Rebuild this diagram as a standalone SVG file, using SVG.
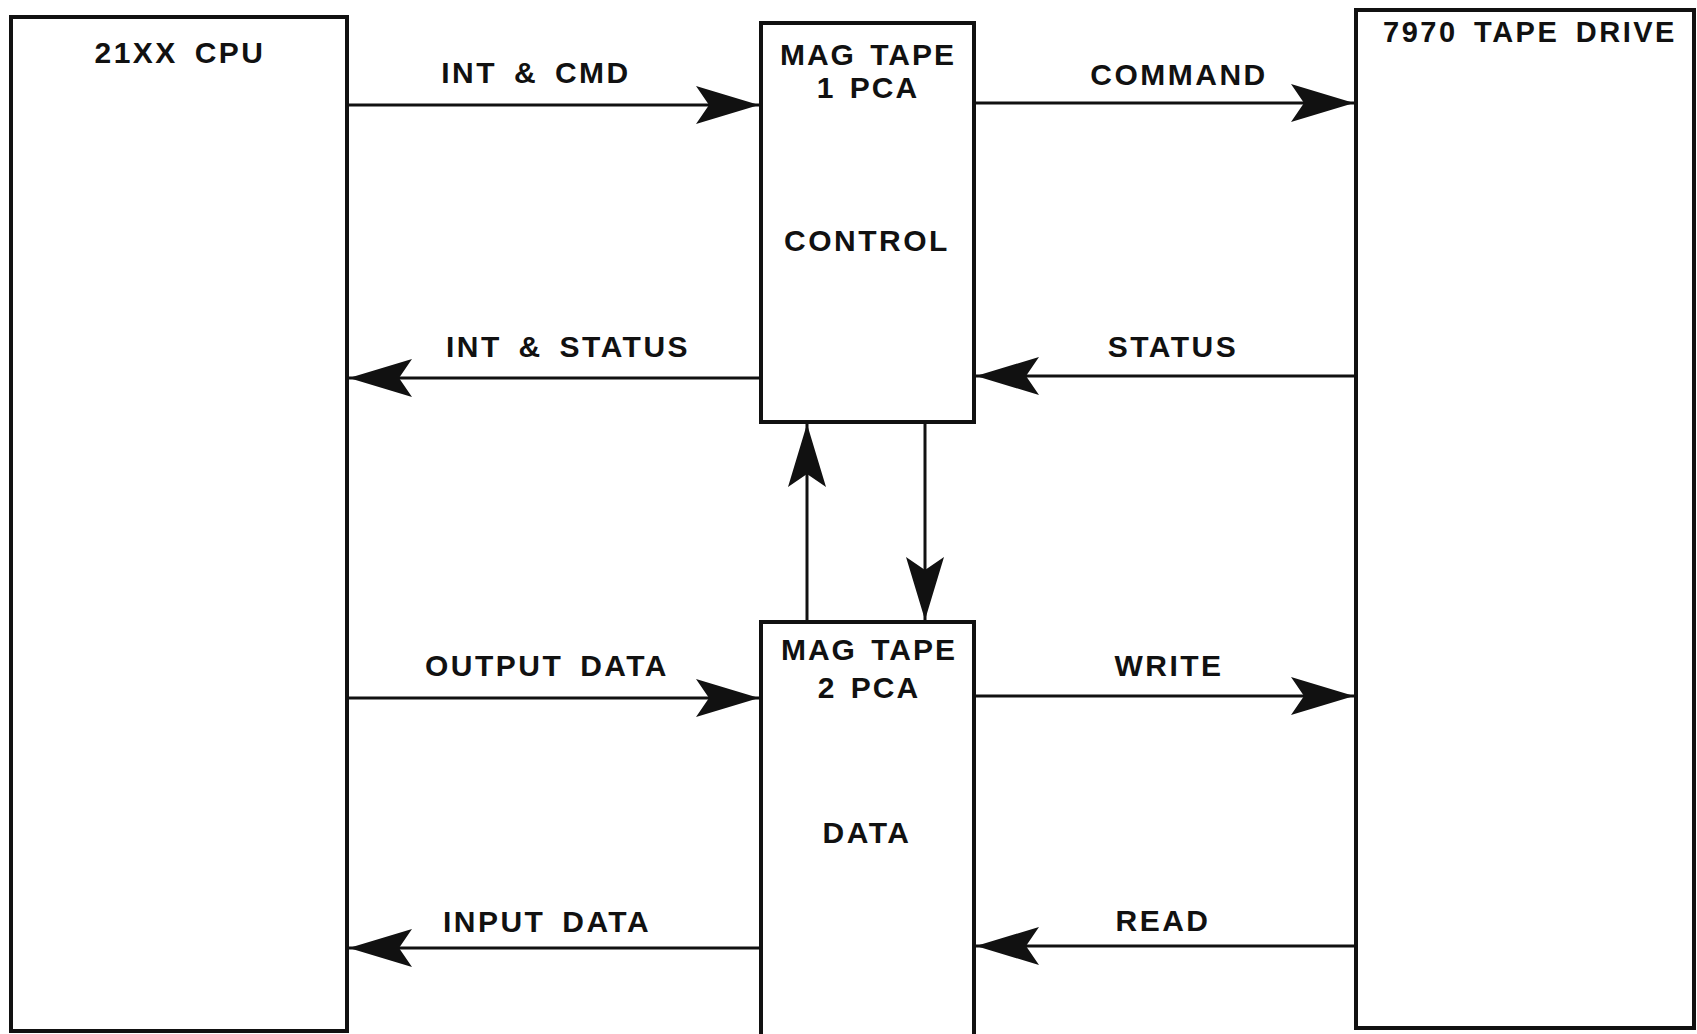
<svg xmlns="http://www.w3.org/2000/svg" width="1697" height="1034" viewBox="0 0 1697 1034">
<style>
.box{fill:none;stroke:#111;stroke-width:4}
.ln{fill:none;stroke:#111;stroke-width:3;marker-end:url(#ah)}
text{font-family:"Liberation Sans",Arial,sans-serif;font-weight:bold;fill:#111;text-anchor:middle}
.t{font-size:30px;letter-spacing:2.5px;word-spacing:6px}
.m{font-size:30px;letter-spacing:2px;word-spacing:4px}
</style>
<defs>
<marker id="ah" markerUnits="userSpaceOnUse" viewBox="-64 -20 66 40" markerWidth="66" markerHeight="40" refX="0" refY="0" orient="auto">
<path d="M0,0 L-63,-19 L-50,0 L-63,19 Z" fill="#111"/>
</marker>
</defs>
<rect width="1697" height="1034" fill="#fff"/>
<g id="cpu">
<rect class="box" x="11" y="17" width="336" height="1014"/>
<text class="t" x="180" y="63">21XX CPU</text>
</g>
<g id="magtape1">
<rect class="box" x="761" y="23" width="213" height="399"/>
<text class="m" x="868" y="65">MAG TAPE</text>
<text class="m" x="868" y="98">1 PCA</text>
<text class="t" x="867" y="251">CONTROL</text>
</g>
<g id="magtape2">
<rect class="box" x="761" y="622" width="213" height="420"/>
<text class="m" x="869" y="660">MAG TAPE</text>
<text class="m" x="869" y="698">2 PCA</text>
<text class="t" x="867" y="843">DATA</text>
</g>
<g id="drive">
<rect class="box" x="1356" y="10" width="338" height="1018"/>
<text class="t" x="1530" y="42" style="font-size:29px">7970 TAPE DRIVE</text>
</g>
<g id="connectors">
<line class="ln" x1="349" y1="105" x2="759" y2="105"/>
<line class="ln" x1="976" y1="103" x2="1354" y2="103"/>
<line class="ln" x1="759" y1="378" x2="349" y2="378"/>
<line class="ln" x1="1354" y1="376" x2="976" y2="376"/>
<line class="ln" x1="349" y1="698" x2="759" y2="698"/>
<line class="ln" x1="976" y1="696" x2="1354" y2="696"/>
<line class="ln" x1="759" y1="948" x2="349" y2="948"/>
<line class="ln" x1="1354" y1="946" x2="976" y2="946"/>
<line class="ln" x1="807" y1="620" x2="807" y2="424"/>
<line class="ln" x1="925" y1="424" x2="925" y2="620"/>
<text class="t" x="536" y="83">INT &amp; CMD</text>
<text class="t" x="1179" y="85">COMMAND</text>
<text class="t" x="568" y="357">INT &amp; STATUS</text>
<text class="t" x="1173" y="357">STATUS</text>
<text class="t" x="547" y="676">OUTPUT DATA</text>
<text class="t" x="1169" y="676">WRITE</text>
<text class="t" x="547" y="932">INPUT DATA</text>
<text class="t" x="1163" y="931">READ</text>
</g>
</svg>
